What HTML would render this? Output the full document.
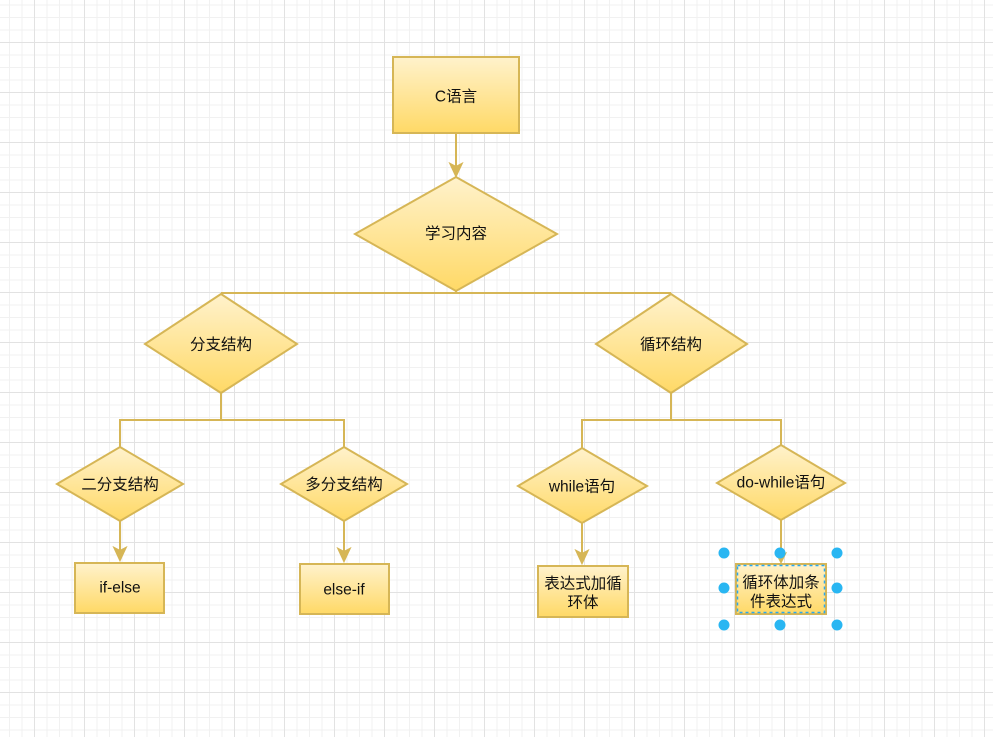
<!DOCTYPE html>
<html><head><meta charset="utf-8"><style>
html,body{margin:0;padding:0;background:#fff;}
svg{display:block;}
text{font-family:"Liberation Sans","Noto Sans CJK SC",sans-serif;font-size:15.5px;fill:#111;}
</style></head><body>
<svg width="993" height="737" viewBox="0 0 993 737" xmlns="http://www.w3.org/2000/svg">
<defs>
<pattern id="grid" x="34" y="42" width="50" height="50" patternUnits="userSpaceOnUse">
<path d="M13 0V50M25.5 0V50M38 0V50M0 13H50M0 25.5H50M0 38H50" stroke="#f1f1f1" stroke-width="1" fill="none"/>
<path d="M0.5 0V50M0 0.5H50" stroke="#e2e2e2" stroke-width="1" fill="none"/>
</pattern>
<linearGradient id="g" x1="0" y1="0" x2="0" y2="1">
<stop offset="0" stop-color="#fff2cc"/>
<stop offset="1" stop-color="#ffd966"/>
</linearGradient>
</defs>
<rect width="993" height="737" fill="#fff"/>
<rect width="993" height="737" fill="url(#grid)"/>

<g stroke="#d6b656" stroke-width="2" fill="none">
<line x1="456" y1="133" x2="456" y2="166"/>
<line x1="456" y1="290" x2="456" y2="293"/>
<line x1="221" y1="293" x2="671" y2="293"/>
<line x1="221" y1="393" x2="221" y2="420"/>
<line x1="671" y1="393" x2="671" y2="420"/>
<line x1="120" y1="420" x2="344" y2="420"/>
<line x1="582" y1="420" x2="781" y2="420"/>
<line x1="120" y1="419" x2="120" y2="448"/>
<line x1="344" y1="419" x2="344" y2="448"/>
<line x1="582" y1="419" x2="582" y2="449"/>
<line x1="781" y1="419" x2="781" y2="446"/>
<line x1="120" y1="521" x2="120" y2="551"/>
<line x1="344" y1="521" x2="344" y2="552"/>
<line x1="582" y1="523" x2="582" y2="554"/>
<line x1="781" y1="520" x2="781" y2="555"/>
</g>
<g fill="#d6b656" stroke="#d6b656" stroke-width="1">
<polygon points="456,177 449.5,163 456,166.5 462.5,163"/>
<polygon points="120,561 113.5,547 120,550.5 126.5,547"/>
<polygon points="344,562 337.5,548 344,551.5 350.5,548"/>
<polygon points="582,564 575.5,550 582,553.5 588.5,550"/>
<polygon points="781,563 776,553 781,555.5 786,553"/>
</g>

<g fill="url(#g)" stroke="#d6b656" stroke-width="2">
<rect x="393" y="57" width="126" height="76"/>
<polygon points="456,177 557,234 456,291 355,234"/>
<polygon points="221,294 297,344 221,393 145,344"/>
<polygon points="671,294 747,344 671,393 596,344"/>
<polygon points="120,447 183,484 120,521 57,484"/>
<polygon points="344,447 407,484 344,521 281,484"/>
<polygon points="582,448 647,486 582,523 518,486"/>
<polygon points="781,445 845,483 781,520 717,483"/>
<rect x="75" y="563" width="89" height="50"/>
<rect x="300" y="564" width="89" height="50"/>
<rect x="538" y="566" width="90" height="51"/>
<rect x="736" y="564" width="90" height="50"/>
</g>
<rect x="737.5" y="565.5" width="87" height="47" fill="none" stroke="#29a8f0" stroke-width="1.5" stroke-dasharray="3 3"/>

<g text-anchor="middle" dominant-baseline="central">
<text x="456" y="97">C语言</text>
<text x="456" y="234">学习内容</text>
<text x="221" y="345">分支结构</text>
<text x="671" y="345">循环结构</text>
<text x="120" y="485">二分支结构</text>
<text x="344" y="485">多分支结构</text>
<text x="582" y="487">while语句</text>
<text x="781" y="483">do-while语句</text>
<text x="120" y="588">if-else</text>
<text x="344" y="590">else-if</text>
<text x="583" y="584">表达式加循</text>
<text x="583" y="603">环体</text>
<text x="781" y="583">循环体加条</text>
<text x="781" y="602">件表达式</text>
</g>

<g fill="#29b6f2">
<circle cx="724" cy="553" r="5.5"/>
<circle cx="780" cy="553" r="5.5"/>
<circle cx="837" cy="553" r="5.5"/>
<circle cx="724" cy="588" r="5.5"/>
<circle cx="837" cy="588" r="5.5"/>
<circle cx="724" cy="625" r="5.5"/>
<circle cx="780" cy="625" r="5.5"/>
<circle cx="837" cy="625" r="5.5"/>
</g>
</svg>
</body></html>
